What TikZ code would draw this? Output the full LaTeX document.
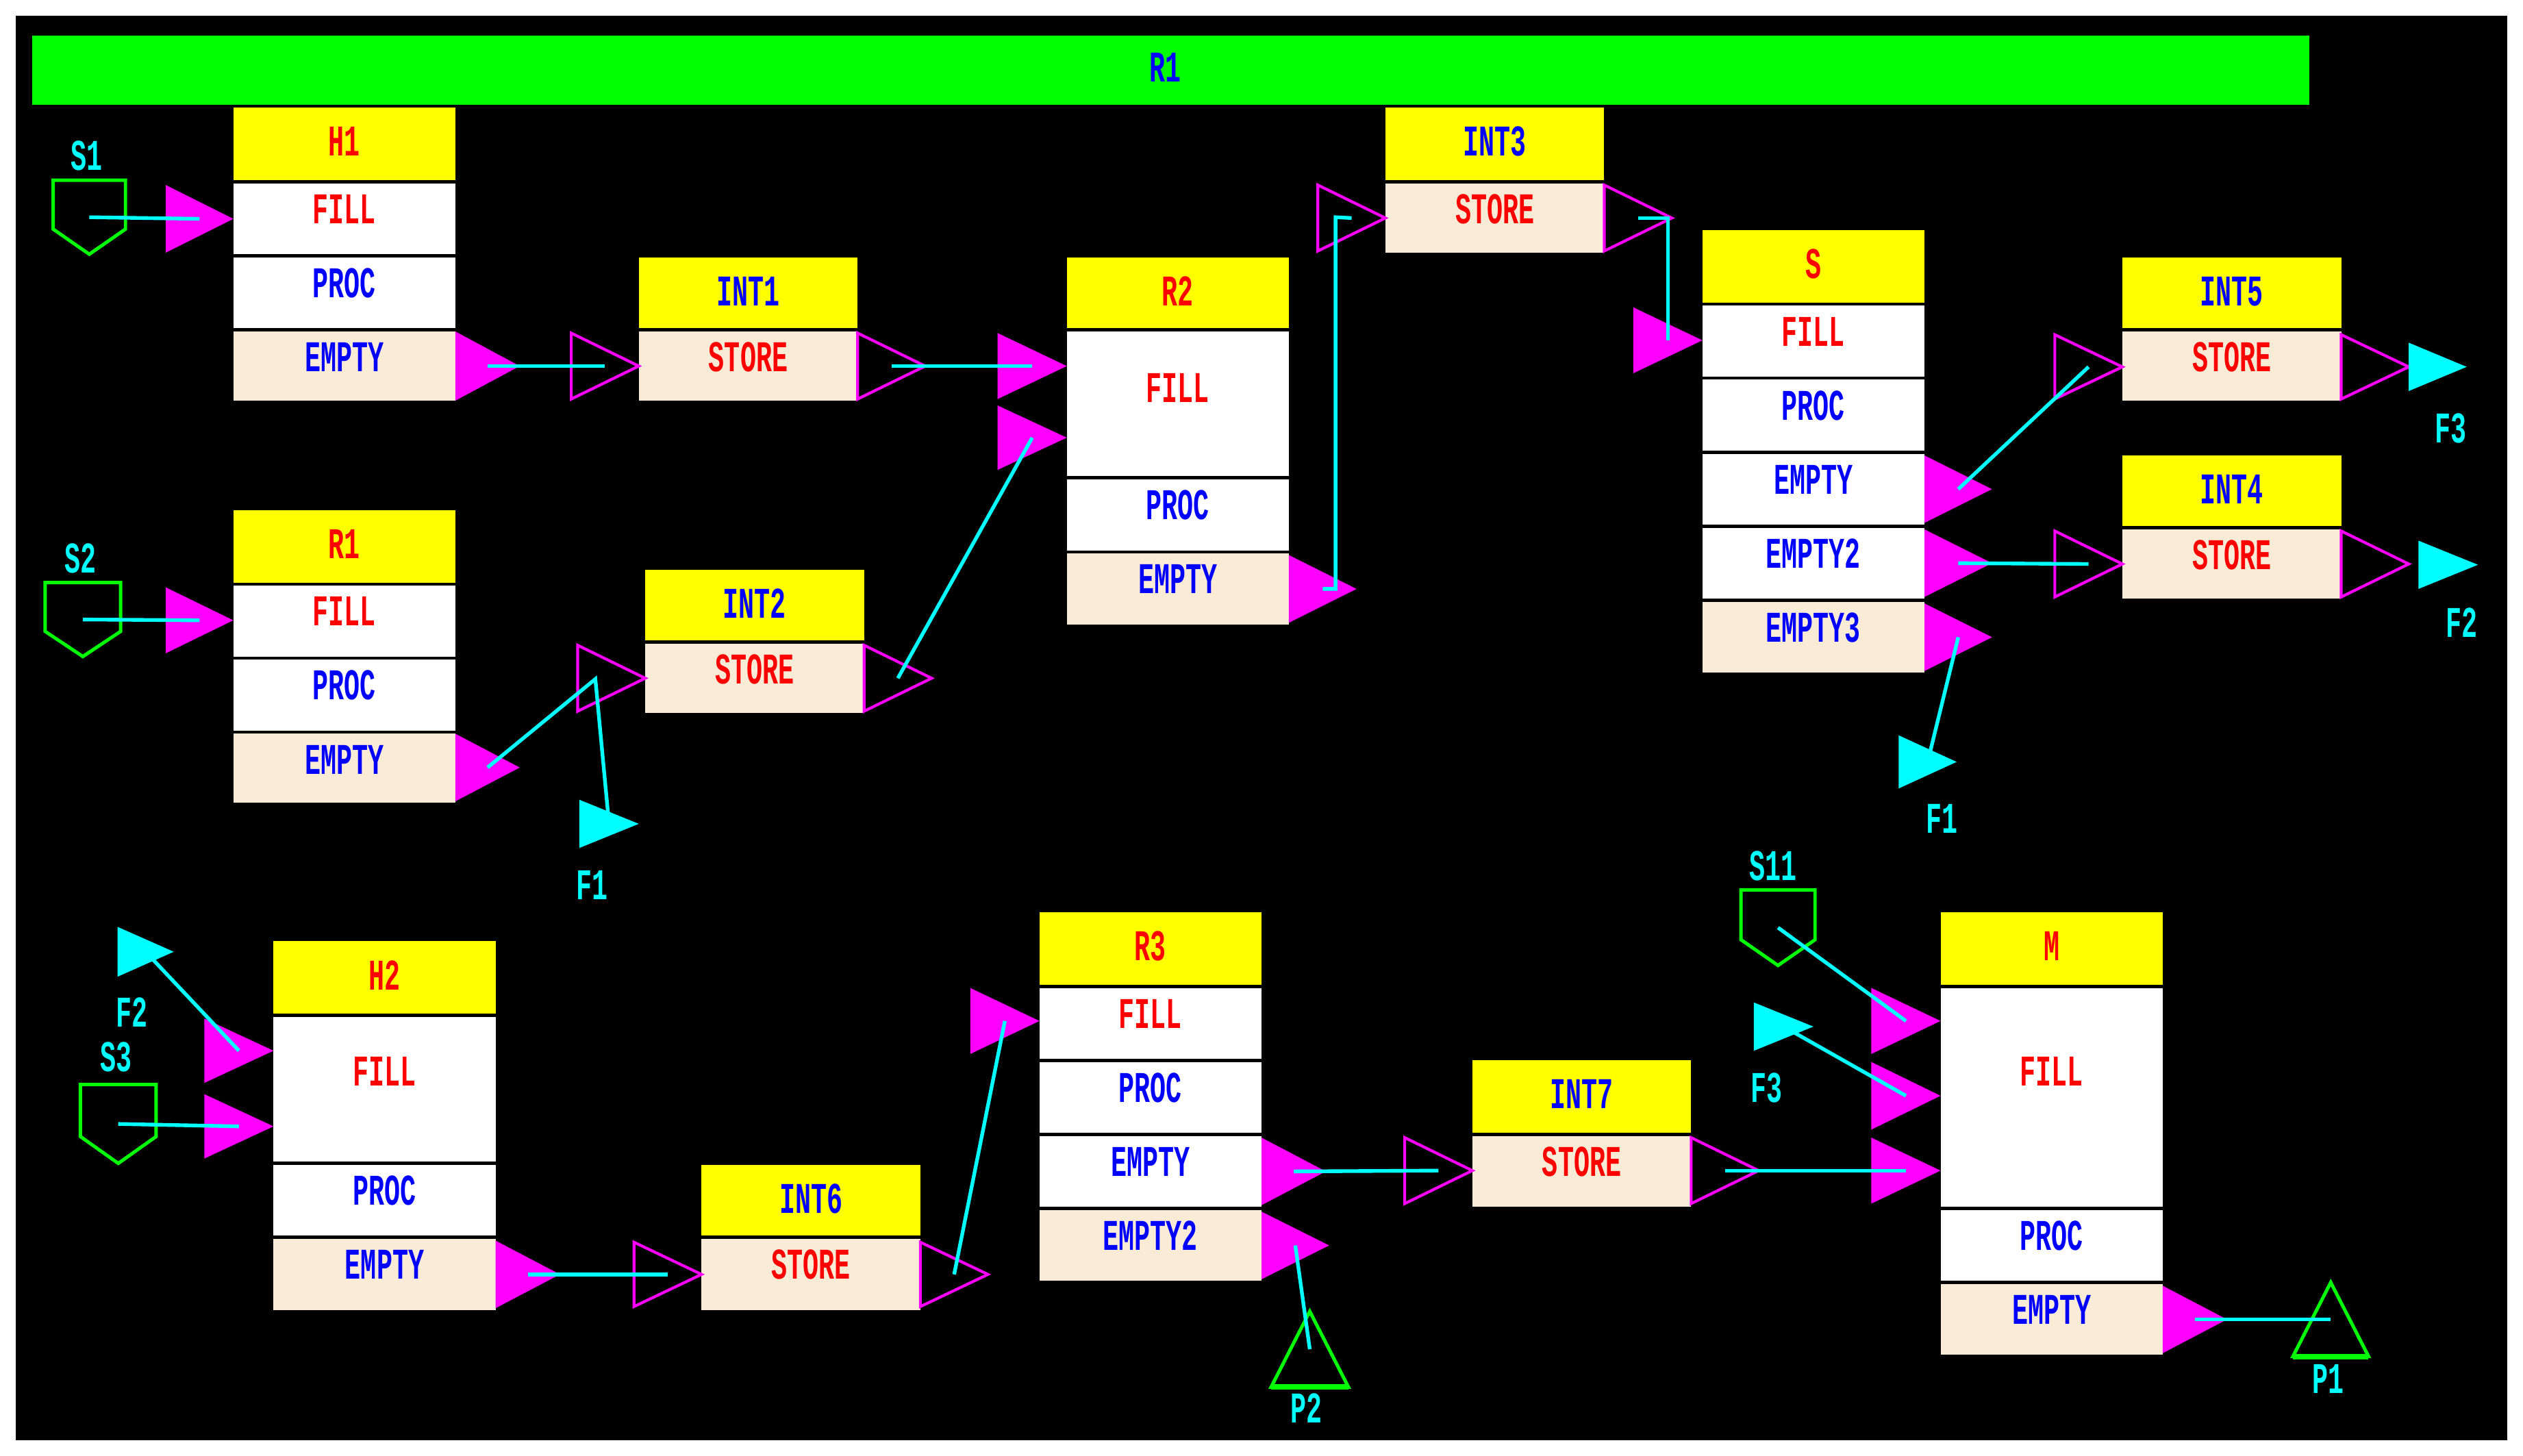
\documentclass[tikz,border=0pt]{standalone}
\usepackage{fontspec}
\newfontfamily\pix{Liberation Mono}[FakeStretch=0.6]
\definecolor{mag}{RGB}{255,0,255}
\definecolor{cy}{RGB}{0,255,255}
\definecolor{gr}{RGB}{0,255,0}
\definecolor{ye}{RGB}{255,255,0}
\definecolor{ln}{RGB}{250,235,215}
\definecolor{bl}{RGB}{0,0,255}
\definecolor{rd}{RGB}{255,0,0}
\tikzset{
 txt/.style={font=\pix\bfseries\fontsize{15.5}{16}\selectfont, inner sep=0pt},
 link/.style={cy, line width=1.3pt},
 hol/.style={mag, line width=1pt, line join=miter},
 shield/.style={gr, line width=1.2pt},
 pt/.style={gr, line width=1.2pt},
}
% row: name x1 x2 y1 y2 fill textcolor text texty
\newcommand\rw[9]{\fill[#6] (#2,#4) rectangle (#3,#5);
 \node[txt,text=#7] (#1) at ({(#2+#3)/2},#9) {#8};}
\newcommand\ftri[5]{\fill[mag] (#2,#3) -- (#4,{(#3+#5)/2}) -- (#2,#5) -- cycle;
 \coordinate (#1) at ({(#2+#4)/2},{(#3+#5)/2});}
\newcommand\htri[5]{\draw[hol] (#2,#3) -- (#4,{(#3+#5)/2}) -- (#2,#5) -- cycle;
 \coordinate (#1) at ({(#2+#4)/2},{(#3+#5)/2});}
\newcommand\ctri[5]{\fill[cy] (#2,#3) -- (#4,{(#3+#5)/2}) -- (#2,#5) -- cycle;
 \coordinate (#1) at ({(#2+#4)/2},{(#3+#5)/2});}
% shield: name xl yt xr ybottom-point
\newcommand\shld[5]{\draw[shield] (#2,#3) -- (#4,#3) -- (#4,{#3+0.66*(#5-#3)}) -- ({(#2+#4)/2},#5) -- (#2,{#3+0.66*(#5-#3)}) -- cycle;
 \coordinate (#1) at ({(#2+#4)/2},{#3+0.5*(#5-#3)});}
% product triangle: name xl ytop xr ybot
\newcommand\ptri[5]{\draw[pt] ({(#2+#4)/2},#3) -- (#4,#5) -- (#2,#5) -- cycle;
 \draw[gr, line width=2pt] (#2,#5) -- (#4,#5);
 \coordinate (#1) at ({(#2+#4)/2},{(#3+#5)/2});}
\begin{document}
\begin{tikzpicture}[x=0.02cm,y=-0.02cm]
\fill[white] (0,0) rectangle (1568,904.5);
\fill[black] (10,10) rectangle (1558,895);
% title bar
\fill[gr] (20,22) rectangle (1435,65);
\node[txt,text=bl] (title) at (724,42) {R1};
% H1
\rw{h1}{145}{283}{67}{112}{ye}{rd}{H1}{88}
\rw{h1f}{145}{283}{114}{158}{white}{rd}{FILL}{130}
\rw{h1p}{145}{283}{160}{204}{white}{bl}{PROC}{176}
\rw{h1e}{145}{283}{206}{249}{ln}{bl}{EMPTY}{222}
% R1 block
\rw{r1}{145}{283}{317}{362}{ye}{rd}{R1}{338}
\rw{r1f}{145}{283}{364}{408}{white}{rd}{FILL}{380}
\rw{r1p}{145}{283}{410}{454}{white}{bl}{PROC}{426}
\rw{r1e}{145}{283}{456}{499}{ln}{bl}{EMPTY}{472}
% INT1
\rw{i1}{397}{533}{160}{204}{ye}{bl}{INT1}{181}
\rw{i1s}{397}{533}{206}{249}{ln}{rd}{STORE}{222}
% INT2
\rw{i2}{401}{537}{354}{398}{ye}{bl}{INT2}{375}
\rw{i2s}{401}{537}{400}{443}{ln}{rd}{STORE}{416}
% R2
\rw{r2}{663}{801}{160}{204}{ye}{rd}{R2}{181}
\rw{r2f}{663}{801}{206}{296}{white}{rd}{FILL}{241}
\rw{r2p}{663}{801}{298}{342}{white}{bl}{PROC}{314}
\rw{r2e}{663}{801}{344}{388}{ln}{bl}{EMPTY}{360}
% INT3
\rw{i3}{861}{997}{67}{112}{ye}{bl}{INT3}{88}
\rw{i3s}{861}{997}{114}{157}{ln}{rd}{STORE}{130}
% S
\rw{s}{1058}{1196}{143}{188}{ye}{rd}{S}{164}
\rw{sf}{1058}{1196}{190}{234}{white}{rd}{FILL}{206}
\rw{sp}{1058}{1196}{236}{280}{white}{bl}{PROC}{252}
\rw{se}{1058}{1196}{282}{326}{white}{bl}{EMPTY}{298}
\rw{se2}{1058}{1196}{328}{372}{white}{bl}{EMPTY2}{344}
\rw{se3}{1058}{1196}{374}{418}{ln}{bl}{EMPTY3}{390}
% INT5, INT4
\rw{i5}{1319}{1455}{160}{204}{ye}{bl}{INT5}{181}
\rw{i5s}{1319}{1455}{206}{249}{ln}{rd}{STORE}{222}
\rw{i4}{1319}{1455}{283}{327}{ye}{bl}{INT4}{304}
\rw{i4s}{1319}{1455}{329}{372}{ln}{rd}{STORE}{345}
% H2
\rw{h2}{170}{308}{585}{630}{ye}{rd}{H2}{606}
\rw{h2f}{170}{308}{632}{722}{white}{rd}{FILL}{666}
\rw{h2p}{170}{308}{724}{768}{white}{bl}{PROC}{740}
\rw{h2e}{170}{308}{770}{814}{ln}{bl}{EMPTY}{786}
% INT6
\rw{i6}{436}{572}{724}{768}{ye}{bl}{INT6}{745}
\rw{i6s}{436}{572}{770}{814}{ln}{rd}{STORE}{786}
% R3
\rw{r3}{646}{784}{567}{612}{ye}{rd}{R3}{588}
\rw{r3f}{646}{784}{614}{658}{white}{rd}{FILL}{630}
\rw{r3p}{646}{784}{660}{704}{white}{bl}{PROC}{676}
\rw{r3e}{646}{784}{706}{750}{white}{bl}{EMPTY}{722}
\rw{r3e2}{646}{784}{752}{796}{ln}{bl}{EMPTY2}{768}
% INT7
\rw{i7}{915}{1051}{659}{704}{ye}{bl}{INT7}{680}
\rw{i7s}{915}{1051}{706}{750}{ln}{rd}{STORE}{722}
% M
\rw{m}{1206}{1344}{567}{612}{ye}{rd}{M}{588}
\rw{mf}{1206}{1344}{614}{750}{white}{rd}{FILL}{666}
\rw{mp}{1206}{1344}{752}{796}{white}{bl}{PROC}{768}
\rw{me}{1206}{1344}{798}{842}{ln}{bl}{EMPTY}{814}
% ports
\ftri{h1in}{103}{115}{145}{157}
\ftri{h1out}{283}{206}{323}{249}
\htri{i1in}{355}{207}{397}{248}
\htri{i1out}{533}{207}{575}{248}
\ftri{r2in1}{620}{207}{663}{248}
\ftri{r2in2}{620}{252}{663}{292}
\ftri{r1in}{103}{365}{145}{406}
\ftri{r1out}{283}{456}{323}{498}
\htri{i2in}{359}{401}{401}{442}
\htri{i2out}{537}{401}{579}{442}
\ftri{r2out}{801}{345}{843}{387}
\htri{i3in}{819}{115}{861}{156}
\htri{i3out}{997}{115}{1039}{156}
\ftri{sin}{1015}{191}{1058}{232}
\ftri{sout1}{1196}{283}{1238}{325}
\ftri{sout2}{1196}{329}{1238}{371}
\ftri{sout3}{1196}{375}{1238}{417}
\htri{i5in}{1277}{208}{1319}{248}
\htri{i5out}{1455}{208}{1497}{248}
\htri{i4in}{1277}{330}{1319}{371}
\htri{i4out}{1455}{330}{1497}{371}
\ftri{h2in1}{127}{633}{170}{673}
\ftri{h2in2}{127}{680}{170}{720}
\ftri{h2out}{308}{771}{348}{813}
\htri{i6in}{394}{772}{436}{812}
\htri{i6out}{572}{772}{614}{812}
\ftri{r3in}{603}{614}{646}{655}
\ftri{r3out1}{784}{707}{824}{749}
\ftri{r3out2}{784}{753}{826}{795}
\htri{i7in}{873}{707}{915}{748}
\htri{i7out}{1051}{707}{1093}{748}
\ftri{min1}{1163}{614}{1206}{655}
\ftri{min2}{1163}{660}{1206}{702}
\ftri{min3}{1163}{707}{1206}{748}
\ftri{mout}{1344}{799}{1384}{841}
% sources, sinks
\shld{s1}{33}{112}{78}{158}
\node[txt,text=cy] (s1l) at (54,97) {S1};
\shld{s2}{28}{362}{75}{408}
\node[txt,text=cy] (s2l) at (50,347) {S2};
\shld{s3}{50}{674}{97}{723}
\node[txt,text=cy] (s3l) at (72,657) {S3};
\shld{s11}{1082}{553}{1128}{600}
\node[txt,text=cy] (s11l) at (1102,538) {S11};
\ctri{f1a}{360}{497}{397}{527}
\node[txt,text=cy] (f1al) at (368,550) {F1};
\ctri{f1b}{1180}{457}{1216}{490}
\node[txt,text=cy] (f1bl) at (1207,509) {F1};
\ctri{f3a}{1497}{213}{1533}{243}
\node[txt,text=cy] (f3al) at (1523,266) {F3};
\ctri{f2a}{1503}{336}{1540}{366}
\node[txt,text=cy] (f2al) at (1530,387) {F2};
\ctri{f2b}{73}{576}{108}{607}
\node[txt,text=cy] (f2bl) at (82,629) {F2};
\ctri{f3b}{1090}{623}{1127}{653}
\node[txt,text=cy] (f3bl) at (1098,676) {F3};
\ptri{p2}{790}{815}{838}{862}
\node[txt,text=cy] (p2l) at (812,875) {P2};
\ptri{p1}{1425}{797}{1472}{843}
\node[txt,text=cy] (p1l) at (1447,857) {P1};
% links
\coordinate (c1) at (370,422);
\coordinate (c2) at (830,135);
\coordinate (c3) at (1025,135);
\draw[link] (s1) -- (h1in);
\draw[link] (s2) -- (r1in);
\draw[link] (h1out) -- (i1in);
\draw[link] (i1out) -- (r2in1);
\draw[link] (i2out) -- (r2in2);
\draw[link] (r1out) -- (c1) -- (f1a);
\draw[link] (r2out) -| (c2) -- (i3in);
\draw[link] (i3out) -| (sin);
\draw[link] (sout1) -- (i5in);
\draw[link] (sout2) -- (i4in);
\draw[link] (sout3) -- (f1b);
\draw[link] (f2b) -- (h2in1);
\draw[link] (s3) -- (h2in2);
\draw[link] (h2out) -- (i6in);
\draw[link] (i6out) -- (r3in);
\draw[link] (r3out1) -- (i7in);
\draw[link] (r3out2) -- (p2);
\draw[link] (i7out) -- (min3);
\draw[link] (s11) -- (min1);
\draw[link] (f3b) -- (min2);
\draw[link] (mout) -- (p1);
\end{tikzpicture}
\end{document}
